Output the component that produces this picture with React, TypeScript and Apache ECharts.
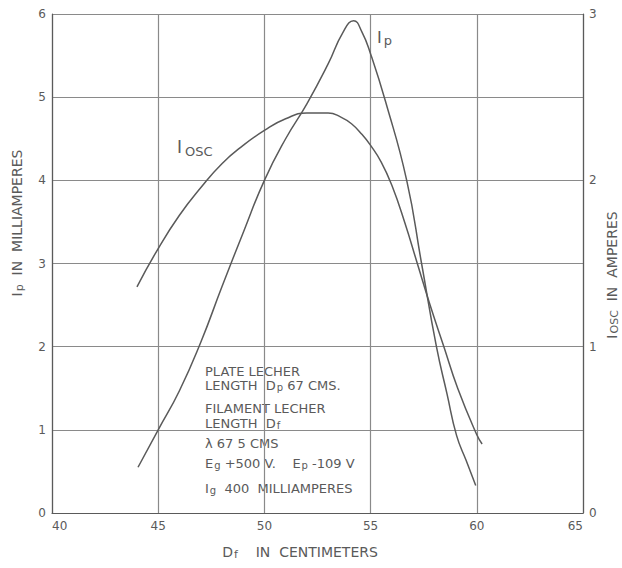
import React, { useEffect, useRef } from "react";
import * as echarts from "echarts";

const xTicks = [40, 45, 50, 55, 60, 65];
const ipData: [number, number][] = [
  [44.05, 0.55], [45, 1.0], [46, 1.47], [47, 2.05], [48, 2.72], [49, 3.37], [50, 4.0],
  [51, 4.5], [52, 4.92], [53, 5.4], [53.7, 5.78], [54.2, 5.92], [54.6, 5.78], [55, 5.52],
  [55.7, 4.95], [56.7, 4.0], [57.4, 3.0], [58.1, 2.0], [58.6, 1.43],
  [59.05, 0.93], [59.5, 0.63], [59.95, 0.33],
];
const ioscData: [number, number][] = [
  [44.0, 1.36], [45, 1.59], [46, 1.79], [47, 1.955], [48, 2.1], [49, 2.21], [50, 2.3],
  [51, 2.37], [52, 2.405], [53, 2.405], [53.6, 2.38], [54.1, 2.34], [54.6, 2.275],
  [55, 2.21], [55.5, 2.11], [56, 1.97], [56.6, 1.75], [57.2, 1.5],
  [57.8, 1.25], [58.45, 1.0], [59.1, 0.75], [60, 0.47], [60.25, 0.415],
];
const annotationLines = [
  "PLATE LECHER",
  "LENGTH  D{s|p} 67 CMS.",
  "FILAMENT LECHER",
  "LENGTH  D{s|f}",
  "λ 67 5 CMS",
  "E{s|g} +500 V.    E{s|p} -109 V",
  "I{s|g}  400  MILLIAMPERES",
];
const annotationY = [371, 385, 408, 423, 443, 463, 488];

const INK = "#5a5a5a";
const GRID = "#8a8a8a";
const FONT = "DejaVu Sans";

export default function App() {
  const ref = useRef<HTMLDivElement>(null);
  useEffect(() => {
    if (!ref.current) return;
    const chart = echarts.init(ref.current, undefined, { renderer: "svg" });
    const sub = { fontSize: 10, padding: [5, 0, 0, 1], color: INK, fontFamily: FONT };
    chart.setOption({
      animation: false,
      backgroundColor: "#ffffff",
      grid: { left: 52, right: 39, top: 14, bottom: 55 },
      xAxis: {
        type: "value",
        min: xTicks[0],
        max: xTicks[xTicks.length - 1],
        interval: 5,
        axisLine: { show: true, onZero: false, lineStyle: { color: INK, width: 1.2 } },
        axisTick: { show: false },
        splitLine: { show: true, lineStyle: { color: GRID, width: 1.2 } },
        axisLabel: {
          color: INK, fontFamily: FONT, fontSize: 12, margin: 7,
          alignMinLabel: "left", alignMaxLabel: "right",
        },
      },
      yAxis: [
        {
          type: "value", min: 0, max: 6, interval: 1,
          axisLine: { show: true, lineStyle: { color: INK, width: 1.2 } },
          axisTick: { show: false },
          splitLine: { show: true, lineStyle: { color: GRID, width: 1.2 } },
          axisLabel: { color: INK, fontFamily: FONT, fontSize: 12, margin: 6 },
        },
        {
          type: "value", min: 0, max: 3, interval: 1, position: "right",
          axisLine: { show: true, lineStyle: { color: INK, width: 1.2 } },
          axisTick: { show: false },
          splitLine: { show: false },
          axisLabel: { color: INK, fontFamily: FONT, fontSize: 12, margin: 6 },
        },
      ],
      series: [
        {
          name: "Ip", type: "line", yAxisIndex: 0, data: ipData, smooth: 0.5,
          showSymbol: false, lineStyle: { color: INK, width: 1.5 },
        },
        {
          name: "Iosc", type: "line", yAxisIndex: 1, data: ioscData, smooth: 0.5,
          showSymbol: false, lineStyle: { color: INK, width: 1.5 },
        },
      ],
      graphic: [
        {
          type: "text", x: 177, y: 147,
          style: {
            text: "I{s|OSC}", fill: INK, fontFamily: FONT, fontSize: 17,
            verticalAlign: "middle",
            rich: { s: { ...sub, fontSize: 13, padding: [8, 0, 0, 3] } },
          },
        },
        {
          type: "text", x: 377, y: 37,
          style: {
            text: "I{s|p}", fill: INK, fontFamily: FONT, fontSize: 16,
            verticalAlign: "middle",
            rich: { s: { ...sub, fontSize: 13, padding: [6, 0, 0, 2] } },
          },
        },
        ...annotationLines.map((t, i) => ({
          type: "text", x: 205, y: annotationY[i],
          style: {
            text: t, fill: INK, fontFamily: FONT, fontSize: 13,
            verticalAlign: "middle", rich: { s: sub },
          },
        })),
        {
          type: "text", x: 17, y: 223, rotation: Math.PI / 2,
          style: {
            text: "I{s|p}  IN  MILLIAMPERES", fill: INK, fontFamily: FONT, fontSize: 14,
            align: "center", verticalAlign: "middle", rich: { s: { ...sub, fontSize: 11 } },
          },
        },
        {
          type: "text", x: 612, y: 275, rotation: Math.PI / 2,
          style: {
            text: "I{s|OSC}  IN  AMPERES", fill: INK, fontFamily: FONT, fontSize: 14,
            align: "center", verticalAlign: "middle", rich: { s: { ...sub, fontSize: 11 } },
          },
        },
        {
          type: "text", x: 300, y: 552,
          style: {
            text: "D{s|f}    IN  CENTIMETERS", fill: INK, fontFamily: FONT, fontSize: 14,
            align: "center", verticalAlign: "middle", rich: { s: { ...sub, fontSize: 11 } },
          },
        },
      ],
    });
    return () => chart.dispose();
  }, []);
  return <div ref={ref} style={{ width: 622, height: 568, position: "absolute", left: 0, top: 0 }} />;
}
